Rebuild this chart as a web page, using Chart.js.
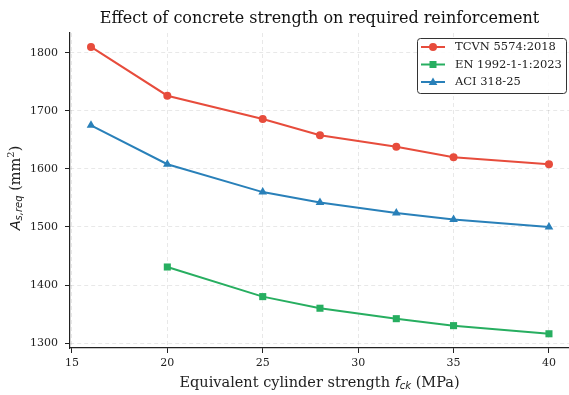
<!DOCTYPE html>
<html>
<head>
<meta charset="utf-8">
<script src="https://cdn.jsdelivr.net/npm/chart.js@4/dist/chart.umd.min.js"></script>
<style>
  html, body { margin: 0; padding: 0; background: #ffffff; }
  #wrap { width: 569px; height: 395px; }
</style>
</head>
<body>
<div id="wrap"><canvas id="c" width="569" height="395"></canvas></div>
<script>
// Required reinforcement A_s,req (mm²) versus equivalent cylinder strength f_ck (MPa)
const tcvnFck = [16, 20, 25, 28, 32, 35, 40];
const tcvnAs  = [1810, 1726, 1686, 1658, 1638, 1620, 1608];

const enFck = [20, 25, 28, 32, 35, 40];
const enAs  = [1431, 1380, 1360, 1342, 1330, 1316];

const aciFck = [16, 20, 25, 28, 32, 35, 40];
const aciAs  = [1675, 1608, 1560, 1542, 1524, 1513, 1500];

const seriesNames = ['TCVN 5574:2018', 'EN 1992-1-1:2023', 'ACI 318-25'];
const seriesColors = ['#e74c3c', '#27ae60', '#2980b9'];
const seriesMarkers = ['circle', 'rect', 'triangle'];

const xTicks = [15, 20, 25, 30, 35, 40];
const yTicks = [1300, 1400, 1500, 1600, 1700, 1800];

const titleText = 'Effect of concrete strength on required reinforcement';

const SERIF = '"DejaVu Serif", serif';
const SANS = '"DejaVu Sans", sans-serif';
const INK = '#222222';

function pairs(xs, ys) { return xs.map((x, i) => ({ x: x, y: ys[i] })); }

const markerRadius = [4, 5, 5];

const datasets = [pairs(tcvnFck, tcvnAs), pairs(enFck, enAs), pairs(aciFck, aciAs)].map((d, i) => ({
  label: seriesNames[i],
  data: d,
  borderColor: seriesColors[i],
  backgroundColor: seriesColors[i],
  borderWidth: 2,
  pointStyle: seriesMarkers[i],
  pointRadius: markerRadius[i],
  pointBorderWidth: 0,
  pointBackgroundColor: seriesColors[i],
  tension: 0,
  fill: false
}));

// Draw a run of text pieces with their own fonts and baseline offsets, centred on (cx, cy)
function drawRichText(ctx, parts, cx, cy) {
  let total = 0;
  parts.forEach(p => { ctx.font = p.font; p.w = ctx.measureText(p.text).width; total += p.w; });
  let x = cx - total / 2;
  ctx.textAlign = 'left';
  ctx.textBaseline = 'middle';
  parts.forEach(p => {
    ctx.font = p.font;
    ctx.fillText(p.text, x, cy + (p.dy || 0));
    x += p.w;
  });
}

const decorations = {
  id: 'decorations',
  afterDraw(chart) {
    const ctx = chart.ctx;
    const area = chart.chartArea;
    const midX = (area.left + area.right) / 2;
    ctx.save();
    ctx.fillStyle = '#111111';

    // Title
    ctx.font = '16px ' + SERIF;
    ctx.textAlign = 'center';
    ctx.textBaseline = 'middle';
    ctx.fillText(titleText, midX, 19);

    // X axis title
    ctx.fillStyle = INK;
    drawRichText(ctx, [
      { text: 'Equivalent cylinder strength ', font: '14.5px ' + SERIF },
      { text: 'f', font: 'italic 14.5px ' + SANS },
      { text: 'ck', font: 'italic 10px ' + SANS, dy: 3 },
      { text: ' (MPa)', font: '14.5px ' + SERIF }
    ], midX, 383);

    // Y axis title (rotated)
    ctx.save();
    ctx.translate(16, 188);
    ctx.rotate(-Math.PI / 2);
    drawRichText(ctx, [
      { text: 'A', font: 'italic 14.5px ' + SANS },
      { text: 's,req', font: 'italic 10px ' + SANS, dy: 3.5 },
      { text: ' (mm', font: '14.5px ' + SERIF },
      { text: '2', font: '10px ' + SERIF, dy: -4.5 },
      { text: ')', font: '14.5px ' + SERIF }
    ], 0, 0);
    ctx.restore();

    // Legend box in the upper-right corner of the plot
    const bx = 417.5, by = 38.5, bw = 149, bh = 55;
    ctx.beginPath();
    if (ctx.roundRect) ctx.roundRect(bx, by, bw, bh, 3); else ctx.rect(bx, by, bw, bh);
    ctx.fillStyle = 'rgba(255,255,255,0.85)';
    ctx.fill();
    ctx.strokeStyle = '#333333';
    ctx.lineWidth = 1;
    ctx.stroke();

    const rowY = [47, 64.5, 82];
    seriesNames.forEach((name, i) => {
      const y = rowY[i];
      ctx.strokeStyle = seriesColors[i];
      ctx.fillStyle = seriesColors[i];
      ctx.lineWidth = 2;
      ctx.beginPath();
      ctx.moveTo(421, y);
      ctx.lineTo(445, y);
      ctx.stroke();
      const mx = 433;
      ctx.beginPath();
      if (seriesMarkers[i] === 'circle') {
        ctx.arc(mx, y, 4, 0, Math.PI * 2);
      } else if (seriesMarkers[i] === 'rect') {
        ctx.rect(mx - 3.5, y - 3.5, 7, 7);
      } else {
        ctx.moveTo(mx, y - 4.5);
        ctx.lineTo(mx + 4.3, y + 3);
        ctx.lineTo(mx - 4.3, y + 3);
        ctx.closePath();
      }
      ctx.fill();
      ctx.fillStyle = INK;
      ctx.font = '11.5px ' + SERIF;
      ctx.textAlign = 'left';
      ctx.textBaseline = 'middle';
      ctx.fillText(name, 455, y + 0.5);
    });
    ctx.restore();
  }
};

const gridStyle = {
  color: 'rgba(0,0,0,0.09)',
  lineWidth: 1,
  tickColor: INK,
  tickLength: 5,
  tickWidth: 1
};
const borderStyle = { display: true, color: INK, width: 1.2, dash: [4, 3] };

// Keep the plot area fixed: no extra room reserved for overhanging tick labels
function fixBox(size, s) {
  if (s.isHorizontal()) s.height = size; else s.width = size;
  s.paddingLeft = 0; s.paddingRight = 0; s.paddingTop = 0; s.paddingBottom = 0;
}

new Chart(document.getElementById('c'), {
  type: 'line',
  data: { datasets: datasets },
  plugins: [decorations],
  options: {
    responsive: false,
    animation: false,
    devicePixelRatio: 1,
    layout: { autoPadding: false, padding: { top: 33, right: 0, bottom: 0, left: 0 } },
    plugins: {
      legend: { display: false },
      title: { display: false },
      tooltip: { enabled: false }
    },
    scales: {
      x: {
        type: 'linear',
        min: 14.9,
        max: 41.05,
        afterBuildTicks: s => { s.ticks = xTicks.map(v => ({ value: v })); },
        afterFit: s => fixBox(47, s),
        grid: gridStyle,
        border: borderStyle,
        ticks: { color: INK, font: { family: SERIF, size: 11 }, padding: 4, maxRotation: 0,
                 callback: v => String(v) }
      },
      y: {
        type: 'linear',
        min: 1291.5,
        max: 1834,
        afterBuildTicks: s => { s.ticks = yTicks.map(v => ({ value: v })); },
        afterFit: s => fixBox(70, s),
        grid: gridStyle,
        border: borderStyle,
        ticks: { color: INK, font: { family: SERIF, size: 11 }, padding: 7,
                 callback: v => String(v) }
      }
    }
  }
});
</script>
</body>
</html>
